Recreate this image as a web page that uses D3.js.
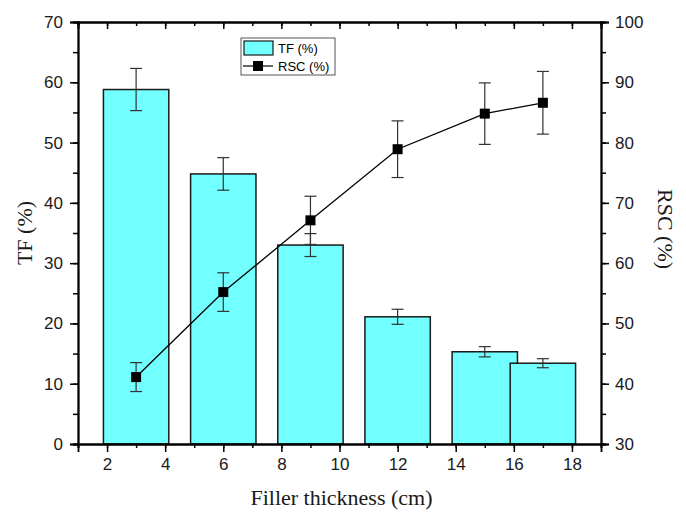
<!DOCTYPE html>
<meta charset="utf-8">
<style>
    body { margin: 0; background: #fff; }
    svg text { font-family: "Liberation Sans", Arial, sans-serif; }
    .title { font-family: "Liberation Serif", "Times New Roman", serif !important; font-size: 22px; fill: #1a1a1a; }
</style>
<body>
<script src="https://cdn.jsdelivr.net/npm/d3@7"></script>
<script>

var thickness = [3, 6, 9, 12, 15, 17];
var tf = [58.8, 44.8, 33.0, 21.1, 15.3, 13.4];
var tfErr = [3.5, 2.7, 1.9, 1.25, 0.85, 0.75];
var rsc = [41.1, 55.2, 67.1, 78.9, 84.8, 86.6];
var rscErr = [2.4, 3.2, 4.0, 4.7, 5.1, 5.2];
var xTicks = [2, 4, 6, 8, 10, 12, 14, 16, 18];
var tfTicks = [0, 10, 20, 30, 40, 50, 60, 70];
var rscTicks = [30, 40, 50, 60, 70, 80, 90, 100];

var data = thickness.map(function(t, i) {
  return {x: t, tf: tf[i], tfErr: tfErr[i], rsc: rsc[i], rscErr: rscErr[i]};
});

var margin = {top: 22, right: 85, bottom: 68, left: 78},
    width = 686 - margin.left - margin.right,
    height = 512 - margin.top - margin.bottom;

var svg = d3.select("body").append("svg")
    .attr("width", 686)
    .attr("height", 512)
  .append("g")
    .attr("transform", "translate(" + margin.left + "," + margin.top + ")");

var x = d3.scaleLinear().domain([1, 19]).range([0, width]);
var y = d3.scaleLinear().domain([0, 70]).range([height, 0]);
var y2 = d3.scaleLinear().domain([30, 100]).range([height, 0]);

var barW = x(2.25) - x(0);

// bars
svg.selectAll("rect.bar")
    .data(data)
  .enter().append("rect")
    .attr("class", "bar")
    .attr("x", function(d) { return x(d.x) - barW / 2; })
    .attr("y", function(d) { return y(d.tf); })
    .attr("width", barW)
    .attr("height", function(d) { return height - y(d.tf); })
    .style("fill", "#72ffff")
    .style("stroke", "#1a1a1a")
    .style("stroke-width", 1.5);

function errorBars(cls, yScale, val, err) {
  var g = svg.selectAll("g." + cls)
      .data(data)
    .enter().append("g")
      .attr("class", cls)
      .style("stroke", "#333")
      .style("stroke-width", 1.2);
  g.append("line")
      .attr("x1", function(d) { return x(d.x); })
      .attr("x2", function(d) { return x(d.x); })
      .attr("y1", function(d) { return yScale(d[val] - d[err]); })
      .attr("y2", function(d) { return yScale(d[val] + d[err]); });
  [-1, 1].forEach(function(s) {
    g.append("line")
        .attr("x1", function(d) { return x(d.x) - 6; })
        .attr("x2", function(d) { return x(d.x) + 6; })
        .attr("y1", function(d) { return yScale(d[val] + s * d[err]); })
        .attr("y2", function(d) { return yScale(d[val] + s * d[err]); });
  });
}

errorBars("tferr", y, "tf", "tfErr");

// RSC line
svg.append("path")
    .datum(data)
    .attr("d", d3.line().x(function(d) { return x(d.x); }).y(function(d) { return y2(d.rsc); }))
    .style("fill", "none")
    .style("stroke", "#000")
    .style("stroke-width", 1.3);

errorBars("rscerr", y2, "rsc", "rscErr");

svg.selectAll("rect.pt")
    .data(data)
  .enter().append("rect")
    .attr("class", "pt")
    .attr("x", function(d) { return x(d.x) - 5; })
    .attr("y", function(d) { return y2(d.rsc) - 5; })
    .attr("width", 10)
    .attr("height", 10)
    .style("fill", "#000");

// axes
function styleAxis(g) {
  g.select(".domain").style("stroke-width", 1.8);
  g.selectAll(".tick line").style("stroke-width", 1.5);
  g.selectAll("text").style("font-size", "17px").style("fill", "#1a1a1a")
    .style("font-family", "'Liberation Sans', Arial, sans-serif");
}

function minor(domain, step) {
  return d3.range(domain[0], domain[1] + 1e-9, step);
}

// minor ticks
svg.append("g").attr("transform", "translate(0," + height + ")")
    .call(d3.axisBottom(x).tickValues(minor([1, 19], 1)).tickSize(4).tickFormat(""))
    .call(styleAxis);
svg.append("g")
    .call(d3.axisTop(x).tickValues(minor([1, 19], 1)).tickSize(-4).tickFormat(""))
    .call(styleAxis);
svg.append("g")
    .call(d3.axisLeft(y).tickValues(minor([0, 70], 5)).tickSize(5).tickFormat(""))
    .call(styleAxis);
svg.append("g").attr("transform", "translate(" + width + ",0)")
    .call(d3.axisRight(y2).tickValues(minor([30, 100], 5)).tickSize(5).tickFormat(""))
    .call(styleAxis);

// major ticks
svg.append("g").attr("transform", "translate(0," + height + ")")
    .call(d3.axisBottom(x).tickValues(xTicks).tickSize(8).tickPadding(6).tickFormat(d3.format("d")))
    .call(styleAxis);
svg.append("g")
    .call(d3.axisTop(x).tickValues(xTicks).tickSize(-7).tickFormat(""))
    .call(styleAxis);
svg.append("g")
    .call(d3.axisLeft(y).tickValues(tfTicks).tickSize(8).tickPadding(7).tickFormat(d3.format("d")))
    .call(styleAxis);
svg.append("g").attr("transform", "translate(" + width + ",0)")
    .call(d3.axisRight(y2).tickValues(rscTicks).tickSize(8).tickPadding(6).tickFormat(d3.format("d")))
    .call(styleAxis);

// axis titles
svg.append("text")
    .attr("class", "title")
    .attr("transform", "translate(" + (-46) + "," + (height / 2) + ") rotate(-90)")
    .attr("text-anchor", "middle")
    .text("TF (%)");
svg.append("text")
    .attr("class", "title")
    .attr("transform", "translate(" + (width + 57) + "," + (height / 2 - 4) + ") rotate(90)")
    .attr("text-anchor", "middle")
    .text("RSC (%)");
svg.append("text")
    .attr("class", "title")
    .attr("x", width / 2 + 2)
    .attr("y", height + 61)
    .attr("text-anchor", "middle")
    .text("Filler thickness (cm)");

// legend
var legend = svg.append("g").attr("transform", "translate(" + (241 - margin.left) + "," + (38 - margin.top) + ")");
legend.append("rect")
    .attr("width", 94).attr("height", 37)
    .style("fill", "#fff").style("stroke", "#555").style("stroke-width", 1);
legend.append("rect")
    .attr("x", 3).attr("y", 3).attr("width", 29).attr("height", 14)
    .style("fill", "#72ffff").style("stroke", "#1a1a1a").style("stroke-width", 1.2);
legend.append("line")
    .attr("x1", 2).attr("x2", 32).attr("y1", 28).attr("y2", 28)
    .style("stroke", "#000").style("stroke-width", 1.2);
legend.append("rect")
    .attr("x", 12).attr("y", 23).attr("width", 10).attr("height", 10)
    .style("fill", "#000");
legend.append("text")
    .attr("x", 37).attr("y", 15)
    .style("font-size", "13px")
    .text("TF (%)");
legend.append("text")
    .attr("x", 37).attr("y", 33)
    .style("font-size", "13px")
    .text("RSC (%)");

</script>
</body>
